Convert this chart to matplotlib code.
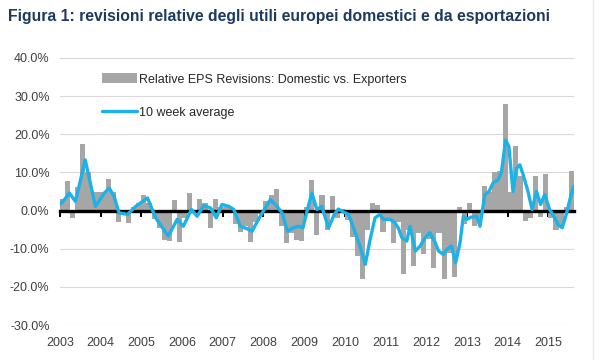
import numpy as np
import matplotlib
matplotlib.use("Agg")
import matplotlib.pyplot as plt
from matplotlib.lines import Line2D

plt.rcParams['font.family'] = ['Liberation Sans', 'DejaVu Sans']

# relative EPS revisions, 8 bars per year starting Jan 2003 (%)
bar_vals = [
    3, 7.7, -2, 6.3, 17.4, 10, 5, 5,            # 2003
    5, 8.3, 5, -3, -0.5, -3.3, 1, 2,            # 2004
    4, 2, -2.3, -4.5, -7.8, -8, 2.8, -8.3,      # 2005
    -2, 4.7, 0, 3, 2, -4.5, 3, 1,               # 2006
    1, 1, -3.5, -5.5, -4, -8.3, -3, -1,         # 2007
    2.5, 4, 5.6, -4, -8.5, -6, -7.6, -8,        # 2008
    1, 8, -6.5, 4, -5, 3.8, -2, 0.5,            # 2009
    -2.5, -7, -12, -18, -5, 2, 1.5, -5.5,       # 2010
    -2, -8.4, -3, -16.5, -5, -14.5, -6, -11.5,  # 2011
    -7.5, -15, -6, -18, -11, -17.5, 1, -3.5,    # 2012
    2, -4, -2, 6.5, 5, 10, 10.5, 28,            # 2013
    4.8, 17, 9, -2.8, -2, 9, -1.7, 9.6,         # 2014
    -2, -5, -4, 1, 10.5,                        # 2015
]
bar_step = 0.125
start_year = 2003

# 10 week average, read as vertices (year, %)
line_years = [
    2003.00, 2003.11, 2003.23, 2003.38, 2003.62, 2003.87,
    2004.09, 2004.21, 2004.33, 2004.45, 2004.66, 2004.86,
    2005.15, 2005.35, 2005.66, 2005.88,
    2006.03, 2006.23, 2006.37, 2006.53, 2006.70, 2006.84, 2006.98,
    2007.15, 2007.27, 2007.43, 2007.60, 2007.72, 2007.92,
    2008.17, 2008.33, 2008.46, 2008.59, 2008.74, 2008.86, 2008.97,
    2009.08, 2009.19, 2009.31, 2009.43, 2009.60, 2009.74, 2009.84, 2009.97,
    2010.09, 2010.21, 2010.37, 2010.50, 2010.62, 2010.74, 2010.86, 2010.95,
    2011.11, 2011.23, 2011.31, 2011.40, 2011.52, 2011.60, 2011.73, 2011.85, 2011.97,
    2012.09, 2012.22, 2012.30, 2012.42, 2012.50, 2012.62, 2012.72, 2012.83, 2012.91, 2012.99,
    2013.11, 2013.24, 2013.32, 2013.44, 2013.54, 2013.64, 2013.77, 2013.85, 2013.95,
    2014.03, 2014.13, 2014.22, 2014.30, 2014.38, 2014.50, 2014.60, 2014.71, 2014.81, 2014.91,
    2015.03, 2015.11, 2015.24, 2015.34, 2015.44, 2015.56, 2015.62,
]
line_vals = [
    1.6, 2.9, 4.6, 2.4, 13.3, 1.1,
    4.6, 5.9, 3.7, -0.6, -1.0, 1.1,
    3.3, -1.9, -6.7, -2.3,
    -4.1, 0.3, -1.5, 1.3, 0.7, -1.9, 1.6,
    1.1, 0.3, -4.1, -4.8, -5.4, -1.5,
    2.9, 1.1, -0.6, -5.4, -4.5, -4.1, -4.5,
    0.3, 4.6, 0.3, 1.1, -4.5, -1.0, 0.4, -0.4,
    -1.0, -4.5, -9.3, -14.1, -7.6, -1.9, -1.0, -2.3,
    -2.3, -3.2, -4.5, -7.1, -8.0, -4.1, -10.6, -9.3, -7.1,
    -5.8, -8.4, -10.6, -11.5, -10.2, -9.3, -13.7, -8.4, -1.5, -2.3,
    -1.7, -1.5, -4.1, 4.2, 5.0, 7.2, 8.1, 10.3, 18.5,
    16.8, 5.0, 11.1, 12.0, 9.4, 5.0, 0.3, 5.0, 1.6, 4.2,
    0.3, -1.0, -3.7, -4.5, -1.0, 4.2, 6.3,
]

years = list(range(2003, 2016))
y_ticks = [-30, -20, -10, 0, 10, 20, 30, 40]

title = "Figura 1: revisioni relative degli utili europei domestici e da esportazioni"
bar_label = "Relative EPS Revisions: Domestic vs. Exporters"
line_label = "10 week average"

bar_x = start_year + bar_step * (np.arange(len(bar_vals)) + 0.5)

fig = plt.figure(figsize=(6, 3.6), dpi=100)
ax = fig.add_axes([60 / 600, 35 / 360, 514 / 600, 267 / 360])

bars = ax.bar(bar_x, bar_vals, width=bar_step, color="#a6a6a6", zorder=1, label=bar_label)
line, = ax.plot(line_years, line_vals, color="#1cb2e8", lw=2.4, zorder=3,
                solid_joinstyle="round", solid_capstyle="round", label=line_label)

ax.set_xlim(2003.0, 2015.63)
ax.set_ylim(-30, 40)
ax.set_yticks(y_ticks)
ax.set_yticklabels([f"{v:.1f}%" for v in y_ticks])
ax.tick_params(axis="y", length=0, pad=7.5, labelsize=9, labelcolor="#404040")
ax.yaxis.grid(True, color="#d9d9d9", lw=0.8)
ax.set_axisbelow(True)

for s in ["left", "top", "right"]:
    ax.spines[s].set_visible(False)
ax.spines["bottom"].set_position(("data", 0))
ax.spines["bottom"].set_linewidth(2.4)
ax.spines["bottom"].set_color("black")
ax.spines["bottom"].set_zorder(2.5)
ax.set_xticks(years)
ax.tick_params(axis="x", direction="out", length=4, width=1.4, color="black",
               labelbottom=False)

sec = ax.secondary_xaxis("bottom")
sec.set_xticks(years, labels=[str(y) for y in years])
sec.spines["bottom"].set_visible(False)
sec.tick_params(length=0, pad=9, labelsize=9, labelcolor="#404040")

ax.legend(handles=[bars, line], labels=[bar_label, line_label],
          loc="upper left", bbox_to_anchor=(102 / 600, 1 - 73 / 360),
          bbox_transform=fig.transFigure, frameon=False, fontsize=9,
          borderpad=0, borderaxespad=0, handlelength=2.8, handleheight=0.9,
          handletextpad=0.15, labelspacing=1.65, labelcolor="#262626")

fig.text(8 / 600, 1 - 21 / 360, title, fontsize=11.3, fontweight="bold",
         color="#1c3a5e", ha="left", va="baseline")
fig.add_artist(Line2D([593 / 600, 593 / 600], [0, 1], color="#ececec", lw=1))

fig.savefig("out.png", dpi=100)
plt.close(fig)
